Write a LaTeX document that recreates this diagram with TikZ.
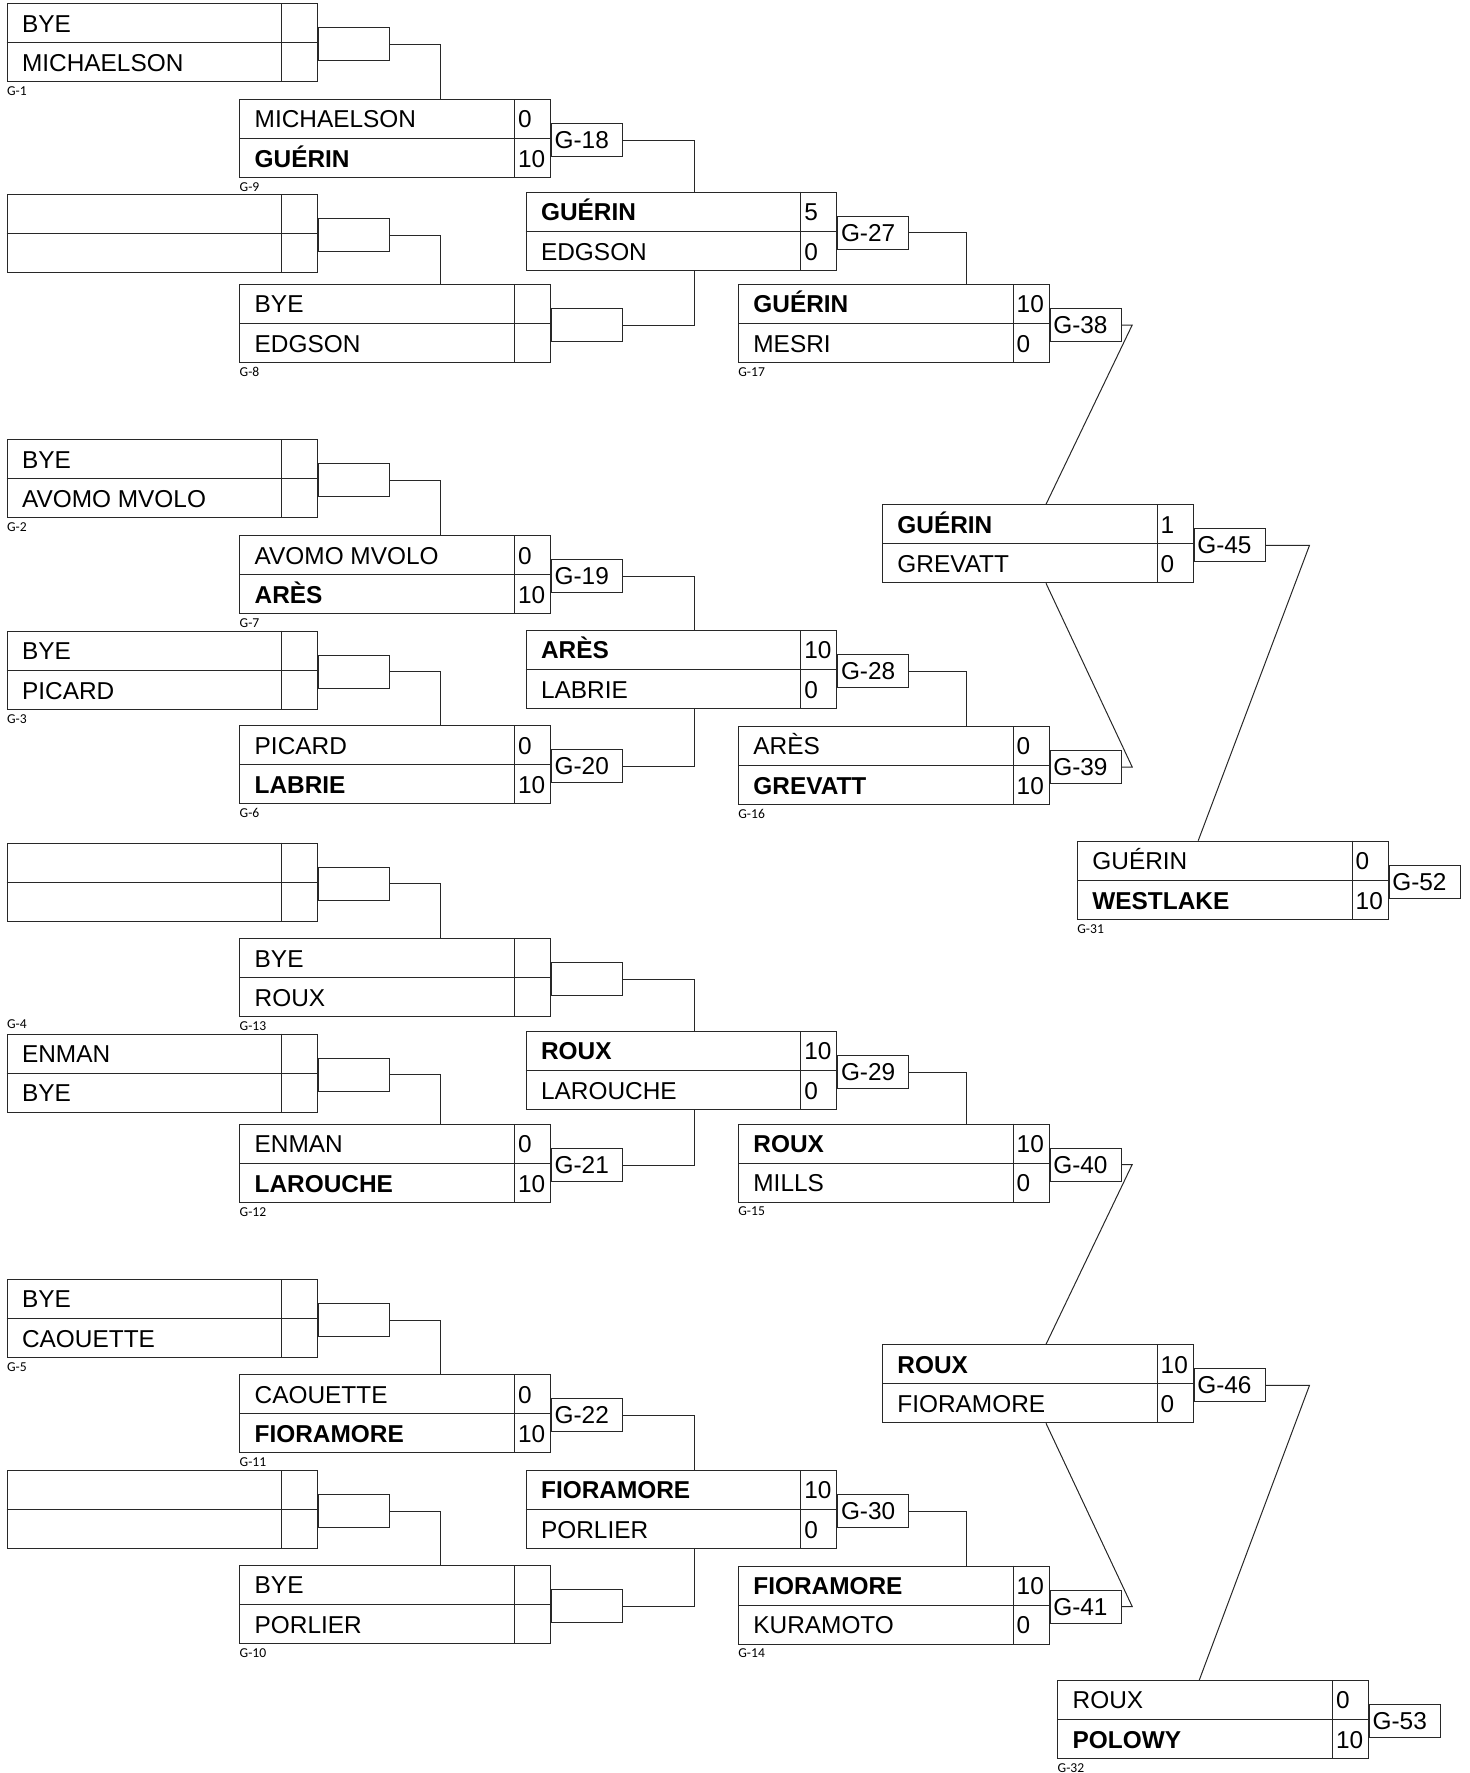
\documentclass[tikz,border=0pt]{standalone}
\usepackage{fontspec}
\setmainfont{Liberation Sans}
\newfontfamily\tagfont{Carlito}
\usepackage{tikz}
\usetikzlibrary{positioning}
\definecolor{colorline}{RGB}{40,40,40}
\definecolor{colortext}{RGB}{0,0,0}

% one match: name, position, player 1, score 1, player 2, score 2
\newcommand\game[6]{%
    \node[gamebox] (#1) at #2 {};
    \draw[rule] (#1.west) -- (#1.east);
    \draw[rule] ([xshift=-18.25pt]#1.north east) -- ([xshift=-18.25pt]#1.south east);
    \node[player] (#1-p1) at ([xshift=7.5pt,yshift=5.4pt]#1.west) {#3};
    \node[player] (#1-p2) at ([xshift=7.5pt,yshift=-14.4pt]#1.west) {#5};
    \node[player] (#1-s1) at ([xshift=-16.6pt,yshift=5.4pt]#1.east) {#4};
    \node[player] (#1-s2) at ([xshift=-16.6pt,yshift=-14.4pt]#1.east) {#6};
}

\begin{document}
\begin{tikzpicture}[
    x=0.5pt, y=-0.5pt,
    rule/.style={draw=colorline,line width=0.5pt},
    gamebox/.style={rule,anchor=north west,minimum width=155.25pt,minimum height=39pt,inner sep=0pt},
    player/.style={anchor=base west,inner sep=0pt,text=colortext,font={\fontsize{12.2}{14}\selectfont}},
    tag/.style={rule,anchor=north west,minimum width=35.5pt,minimum height=16.5pt,inner xsep=1.65pt,inner ysep=0pt,
        text width=32.2pt,align=left,text height=8.6pt,text depth=0pt,text=colortext,font={\fontsize{12.2}{14}\selectfont}},
    gamenum/.style={anchor=west,inner sep=0pt,text=colortext,font={\tagfont\fontsize{6.8}{8}\selectfont}},
]
    \useasboundingbox (0,0) rectangle (1470,1773);

    % first round
    \game{a1}{(6.7,3.3)}{BYE}{}{MICHAELSON}{}
    \game{a2}{(6.7,194)}{}{}{}{}
    \game{a3}{(6.7,439.3)}{BYE}{}{AVOMO MVOLO}{}
    \game{a4}{(6.7,630.7)}{BYE}{}{PICARD}{}
    \game{a5}{(6.7,842.7)}{}{}{}{}
    \game{a6}{(6.7,1033.5)}{ENMAN}{}{BYE}{}
    \game{a7}{(6.7,1279)}{BYE}{}{CAOUETTE}{}
    \game{a8}{(6.7,1470)}{}{}{}{}

    % second round
    \game{b1}{(239.3,99)}{MICHAELSON}{0}{\textbf{GUÉRIN}}{10}
    \game{b2}{(239.3,284)}{BYE}{}{EDGSON}{}
    \game{b3}{(239.3,535.3)}{AVOMO MVOLO}{0}{\textbf{ARÈS}}{10}
    \game{b4}{(239.3,725.3)}{PICARD}{0}{\textbf{LABRIE}}{10}
    \game{b5}{(239.3,938.3)}{BYE}{}{ROUX}{}
    \game{b6}{(239.3,1124)}{ENMAN}{0}{\textbf{LAROUCHE}}{10}
    \game{b7}{(239.3,1374.3)}{CAOUETTE}{0}{\textbf{FIORAMORE}}{10}
    \game{b8}{(239.3,1565)}{BYE}{}{PORLIER}{}

    % third and fourth round
    \game{c1}{(525.7,191.7)}{\textbf{GUÉRIN}}{5}{EDGSON}{0}
    \game{c2}{(525.7,630)}{\textbf{ARÈS}}{10}{LABRIE}{0}
    \game{c3}{(525.7,1031)}{\textbf{ROUX}}{10}{LAROUCHE}{0}
    \game{c4}{(525.7,1470)}{\textbf{FIORAMORE}}{10}{PORLIER}{0}
    \game{d1}{(738,284)}{\textbf{GUÉRIN}}{10}{MESRI}{0}
    \game{d2}{(738,726)}{ARÈS}{0}{\textbf{GREVATT}}{10}
    \game{d3}{(738,1123.5)}{\textbf{ROUX}}{10}{MILLS}{0}
    \game{d4}{(738,1565.5)}{\textbf{FIORAMORE}}{10}{KURAMOTO}{0}

    % semis and finals
    \game{e1}{(882,504.3)}{\textbf{GUÉRIN}}{1}{GREVATT}{0}
    \game{e2}{(882,1344.3)}{\textbf{ROUX}}{10}{FIORAMORE}{0}
    \game{f1}{(1077,840.7)}{GUÉRIN}{0}{\textbf{WESTLAKE}}{10}
    \game{f2}{(1057.3,1680)}{ROUX}{0}{\textbf{POLOWY}}{10}

    % game numbers under the boxes
    \node[gamenum] (n1) at ([yshift=-4.5pt]a1.south west) {G-1};
    \node[gamenum] (n2) at ([yshift=-4.5pt]a3.south west) {G-2};
    \node[gamenum] (n3) at ([yshift=-4.5pt]a4.south west) {G-3};
    \node[gamenum] (n4) at ([yshift=4.75pt]a6.north west) {G-4};
    \node[gamenum] (n5) at ([yshift=-4.5pt]a7.south west) {G-5};
    \node[gamenum] (n9) at ([yshift=-4.5pt]b1.south west) {G-9};
    \node[gamenum] (n8) at ([yshift=-4.5pt]b2.south west) {G-8};
    \node[gamenum] (n7) at ([yshift=-4.5pt]b3.south west) {G-7};
    \node[gamenum] (n6) at ([yshift=-4.5pt]b4.south west) {G-6};
    \node[gamenum] (n13) at ([yshift=-4.5pt]b5.south west) {G-13};
    \node[gamenum] (n12) at ([yshift=-4.5pt]b6.south west) {G-12};
    \node[gamenum] (n11) at ([yshift=-4.5pt]b7.south west) {G-11};
    \node[gamenum] (n10) at ([yshift=-4.5pt]b8.south west) {G-10};
    \node[gamenum] (n17) at ([yshift=-4.5pt]d1.south west) {G-17};
    \node[gamenum] (n16) at ([yshift=-4.5pt]d2.south west) {G-16};
    \node[gamenum] (n15) at ([yshift=-4.5pt]d3.south west) {G-15};
    \node[gamenum] (n14) at ([yshift=-4.5pt]d4.south west) {G-14};
    \node[gamenum] (n31) at ([yshift=-4.5pt]f1.south west) {G-31};
    \node[gamenum] (n32) at ([yshift=-4.5pt]f2.south west) {G-32};

    % brackets for byes
    \node[tag] (ka1) at ([yshift=7.75pt]a1.east) {};
    \node[tag] (ka2) at ([yshift=7.75pt]a2.east) {};
    \node[tag] (ka3) at ([yshift=7.75pt]a3.east) {};
    \node[tag] (ka4) at ([yshift=7.75pt]a4.east) {};
    \node[tag] (ka5) at ([yshift=7.75pt]a5.east) {};
    \node[tag] (ka6) at ([yshift=7.75pt]a6.east) {};
    \node[tag] (ka7) at ([yshift=7.75pt]a7.east) {};
    \node[tag] (ka8) at ([yshift=7.75pt]a8.east) {};
    \node[tag] (kb2) at ([yshift=7.75pt]b2.east) {};
    \node[tag] (kb5) at ([yshift=7.75pt]b5.east) {};
    \node[tag] (kb8) at ([yshift=7.75pt]b8.east) {};

    % next game tags
    \node[tag] (t18) at ([yshift=7.75pt]b1.east) {G-18};
    \node[tag] (t19) at ([yshift=7.75pt]b3.east) {G-19};
    \node[tag] (t20) at ([yshift=7.75pt]b4.east) {G-20};
    \node[tag] (t21) at ([yshift=7.75pt]b6.east) {G-21};
    \node[tag] (t22) at ([yshift=7.75pt]b7.east) {G-22};
    \node[tag] (t27) at ([yshift=7.75pt]c1.east) {G-27};
    \node[tag] (t28) at ([yshift=7.75pt]c2.east) {G-28};
    \node[tag] (t29) at ([yshift=7.75pt]c3.east) {G-29};
    \node[tag] (t30) at ([yshift=7.75pt]c4.east) {G-30};
    \node[tag] (t38) at ([yshift=7.75pt]d1.east) {G-38};
    \node[tag] (t39) at ([yshift=7.75pt]d2.east) {G-39};
    \node[tag] (t40) at ([yshift=7.75pt]d3.east) {G-40};
    \node[tag] (t41) at ([yshift=7.75pt]d4.east) {G-41};
    \node[tag] (t45) at ([yshift=7.75pt]e1.east) {G-45};
    \node[tag] (t46) at ([yshift=7.75pt]e2.east) {G-46};
    \node[tag] (t52) at ([yshift=7.75pt]f1.east) {G-52};
    \node[tag] (t53) at ([yshift=7.75pt]f2.east) {G-53};

    % connectors
    \draw[rule] (ka1.east) -| ([xshift=100.7pt]b1.north west);
    \draw[rule] (ka2.east) -| ([xshift=100.7pt]b2.north west);
    \draw[rule] (ka3.east) -| ([xshift=100.7pt]b3.north west);
    \draw[rule] (ka4.east) -| ([xshift=100.7pt]b4.north west);
    \draw[rule] (ka5.east) -| ([xshift=100.7pt]b5.north west);
    \draw[rule] (ka6.east) -| ([xshift=100.7pt]b6.north west);
    \draw[rule] (ka7.east) -| ([xshift=100.7pt]b7.north west);
    \draw[rule] (ka8.east) -| ([xshift=100.7pt]b8.north west);

    \draw[rule] (t18.east) -| ([xshift=84.5pt]c1.north west);
    \draw[rule] (kb2.east) -| ([xshift=84.5pt]c1.south west);
    \draw[rule] (t19.east) -| ([xshift=84.5pt]c2.north west);
    \draw[rule] (t20.east) -| ([xshift=84.5pt]c2.south west);
    \draw[rule] (kb5.east) -| ([xshift=84.5pt]c3.north west);
    \draw[rule] (t21.east) -| ([xshift=84.5pt]c3.south west);
    \draw[rule] (t22.east) -| ([xshift=84.5pt]c4.north west);
    \draw[rule] (kb8.east) -| ([xshift=84.5pt]c4.south west);

    \draw[rule] (t27.east) -| ([xshift=114pt]d1.north west);
    \draw[rule] (t28.east) -| ([xshift=114pt]d2.north west);
    \draw[rule] (t29.east) -| ([xshift=114pt]d3.north west);
    \draw[rule] (t30.east) -| ([xshift=114pt]d4.north west);

    \draw[rule] (t38.east) -- ([xshift=5.35pt]t38.east) -- ([xshift=82pt]e1.north west);
    \draw[rule] (t39.east) -- ([xshift=5.35pt]t39.east) -- ([xshift=82pt]e1.south west);
    \draw[rule] (t40.east) -- ([xshift=5.35pt]t40.east) -- ([xshift=82pt]e2.north west);
    \draw[rule] (t41.east) -- ([xshift=5.35pt]t41.east) -- ([xshift=82pt]e2.south west);

    \draw[rule] (t45.east) -- ([xshift=22pt]t45.east) -- ([xshift=60.6pt]f1.north west);
    \draw[rule] (t46.east) -- ([xshift=22pt]t46.east) -- ([xshift=71pt]f2.north west);

\end{tikzpicture}
\end{document}
